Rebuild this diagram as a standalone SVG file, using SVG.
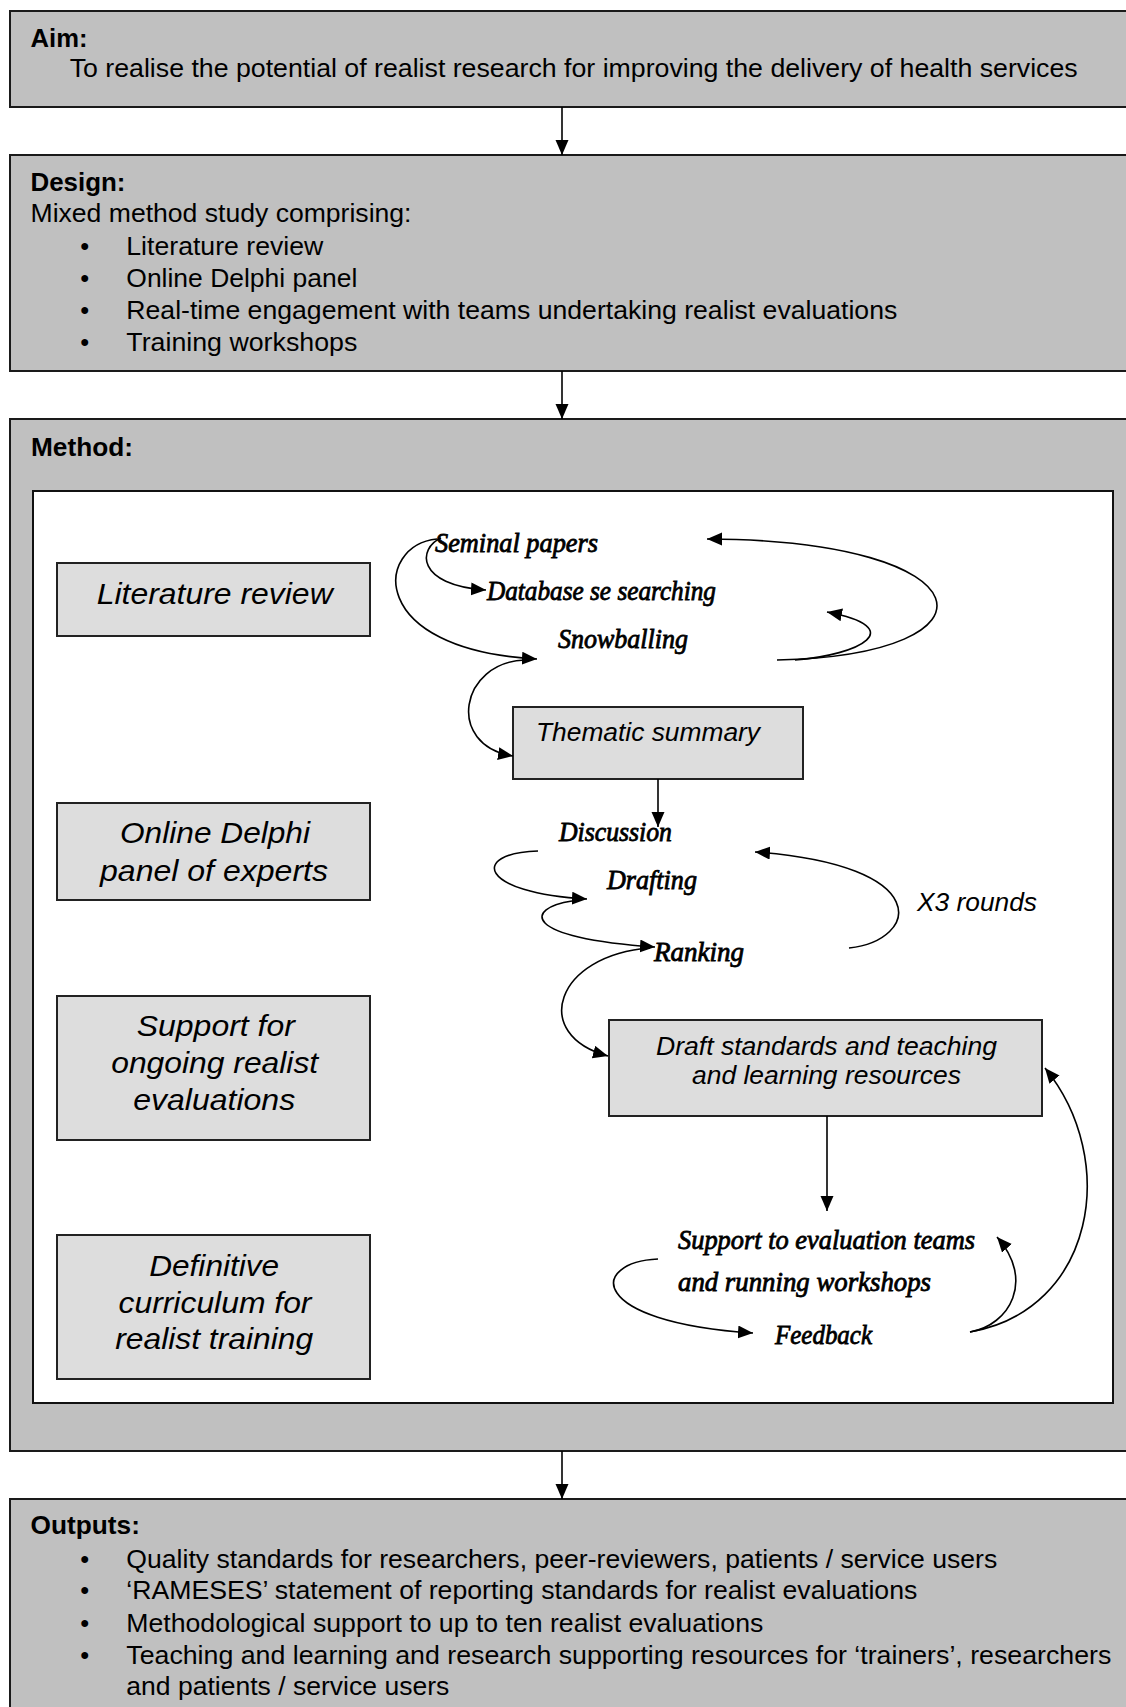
<svg xmlns="http://www.w3.org/2000/svg" width="1126" height="1707" viewBox="0 0 1126 1707">
<style>
.box{fill:#c0c0c0;stroke:#1a1a1a;stroke-width:2}
.lbox{fill:#dddddd;stroke:#222;stroke-width:2}
.inner{fill:#fff;stroke:#111;stroke-width:2}
.t{font-family:"Liberation Sans",Arial,sans-serif;font-size:25.5px;fill:#000}
.b{font-weight:bold}
.li{font-family:"Liberation Sans",Arial,sans-serif;font-style:italic;font-size:29px;fill:#000;text-anchor:middle}
.ri{font-family:"Liberation Sans",Arial,sans-serif;font-style:italic;font-size:26px;fill:#000}
.s{font-family:"Liberation Serif","Times New Roman",serif;font-style:italic;font-size:26.5px;fill:#000;stroke:#000;stroke-width:0.8}
.c{fill:none;stroke:#000;stroke-width:1.6}
.v{fill:none;stroke:#000;stroke-width:1.6}
</style>
<defs>
<marker id="ah" markerUnits="userSpaceOnUse" markerWidth="16" markerHeight="14" refX="15" refY="6.5" orient="auto"><path d="M0,0 L15,6.5 L0,13 Z" fill="#000"/></marker>
</defs>
<rect width="1126" height="1707" fill="#fff"/>

<g id="aim">
<rect class="box" x="10" y="11" width="1130" height="96"/>
<text class="t b" x="30.5" y="47" textLength="57" lengthAdjust="spacingAndGlyphs">Aim:</text>
<text class="t" x="69.7" y="77" textLength="1008" lengthAdjust="spacingAndGlyphs">To realise the potential of realist research for improving the delivery of health services</text>
</g>

<g id="design">
<rect class="box" x="10" y="155" width="1130" height="216"/>
<text class="t b" x="30.5" y="191" textLength="95" lengthAdjust="spacingAndGlyphs">Design:</text>
<text class="t" x="30.5" y="222" textLength="381" lengthAdjust="spacingAndGlyphs">Mixed method study comprising:</text>
<text class="t" x="84.7" y="254.5" text-anchor="middle">•</text>
<text class="t" x="126.3" y="254.5" textLength="197" lengthAdjust="spacingAndGlyphs">Literature review</text>
<text class="t" x="84.7" y="286.5" text-anchor="middle">•</text>
<text class="t" x="126.3" y="286.5" textLength="231" lengthAdjust="spacingAndGlyphs">Online Delphi panel</text>
<text class="t" x="84.7" y="318.5" text-anchor="middle">•</text>
<text class="t" x="126.3" y="318.5" textLength="771" lengthAdjust="spacingAndGlyphs">Real-time engagement with teams undertaking realist evaluations</text>
<text class="t" x="84.7" y="351" text-anchor="middle">•</text>
<text class="t" x="126.3" y="351" textLength="231" lengthAdjust="spacingAndGlyphs">Training workshops</text>
</g>

<g id="method">
<rect class="box" x="10" y="419" width="1130" height="1032"/>
<text class="t b" x="31" y="456" textLength="102" lengthAdjust="spacingAndGlyphs">Method:</text>
<rect class="inner" x="33" y="491" width="1080" height="912"/>
</g>

<g id="lit-review">
<rect class="lbox" x="57" y="563" width="313" height="73"/>
<text class="li" x="214.7" y="603.5" textLength="236" lengthAdjust="spacingAndGlyphs">Literature review</text>
</g>
<g id="delphi">
<rect class="lbox" x="57" y="803" width="313" height="97"/>
<text class="li" x="215" y="843" textLength="190" lengthAdjust="spacingAndGlyphs">Online Delphi</text>
<text class="li" x="214" y="880.5" textLength="228" lengthAdjust="spacingAndGlyphs">panel of experts</text>
</g>
<g id="support">
<rect class="lbox" x="57" y="996" width="313" height="144"/>
<text class="li" x="215.8" y="1036" textLength="158" lengthAdjust="spacingAndGlyphs">Support for</text>
<text class="li" x="214.7" y="1073" textLength="207" lengthAdjust="spacingAndGlyphs">ongoing realist</text>
<text class="li" x="214.2" y="1109.7" textLength="162" lengthAdjust="spacingAndGlyphs">evaluations</text>
</g>
<g id="curriculum">
<rect class="lbox" x="57" y="1235" width="313" height="144"/>
<text class="li" x="214.2" y="1276" textLength="130" lengthAdjust="spacingAndGlyphs">Definitive</text>
<text class="li" x="215" y="1313" textLength="193" lengthAdjust="spacingAndGlyphs">curriculum for</text>
<text class="li" x="214.2" y="1349" textLength="198" lengthAdjust="spacingAndGlyphs">realist training</text>
</g>

<g id="seminal"><text class="s" x="435" y="552" textLength="163" lengthAdjust="spacingAndGlyphs">Seminal papers</text></g>
<g id="database"><text class="s" x="487" y="600" textLength="229" lengthAdjust="spacingAndGlyphs">Database se searching</text></g>
<g id="snowballing"><text class="s" x="558" y="648" textLength="130" lengthAdjust="spacingAndGlyphs">Snowballing</text></g>
<g id="thematic">
<rect class="lbox" x="513" y="707" width="290" height="72"/>
<text class="ri" x="536" y="741" textLength="224" lengthAdjust="spacingAndGlyphs">Thematic summary</text>
</g>
<g id="discussion"><text class="s" x="559" y="841" textLength="113" lengthAdjust="spacingAndGlyphs">Discussion</text></g>
<g id="drafting"><text class="s" x="607" y="889" textLength="90" lengthAdjust="spacingAndGlyphs">Drafting</text></g>
<g id="ranking"><text class="s" x="654" y="961" textLength="90" lengthAdjust="spacingAndGlyphs">Ranking</text></g>
<g id="x3-rounds"><text class="ri" x="917" y="911" textLength="120" lengthAdjust="spacingAndGlyphs">X3 rounds</text></g>
<g id="draft-standards">
<rect class="lbox" x="609" y="1020" width="433" height="96"/>
<text class="ri" x="656" y="1055" textLength="341" lengthAdjust="spacingAndGlyphs">Draft standards and teaching</text>
<text class="ri" x="692" y="1084" textLength="269" lengthAdjust="spacingAndGlyphs">and learning resources</text>
</g>
<g id="support-teams">
<text class="s" x="678" y="1249" textLength="297" lengthAdjust="spacingAndGlyphs">Support to evaluation teams</text>
<text class="s" x="678" y="1291" textLength="253" lengthAdjust="spacingAndGlyphs">and running workshops</text>
</g>
<g id="feedback"><text class="s" x="775" y="1344" textLength="97" lengthAdjust="spacingAndGlyphs">Feedback</text></g>

<g id="outputs">
<rect class="box" x="10" y="1499" width="1130" height="230"/>
<text class="t b" x="30.5" y="1534" textLength="109.5" lengthAdjust="spacingAndGlyphs">Outputs:</text>
<text class="t" x="84.7" y="1568" text-anchor="middle">•</text>
<text class="t" x="126.3" y="1568" textLength="871" lengthAdjust="spacingAndGlyphs">Quality standards for researchers, peer-reviewers, patients / service users</text>
<text class="t" x="84.7" y="1599" text-anchor="middle">•</text>
<text class="t" x="126.3" y="1599" textLength="791" lengthAdjust="spacingAndGlyphs">‘RAMESES’ statement of reporting standards for realist evaluations</text>
<text class="t" x="84.7" y="1631.5" text-anchor="middle">•</text>
<text class="t" x="126.3" y="1631.5" textLength="637" lengthAdjust="spacingAndGlyphs">Methodological support to up to ten realist evaluations</text>
<text class="t" x="84.7" y="1663.5" text-anchor="middle">•</text>
<text class="t" x="126.3" y="1663.5" textLength="985" lengthAdjust="spacingAndGlyphs">Teaching and learning and research supporting resources for ‘trainers’, researchers</text>
<text class="t" x="126.3" y="1695" textLength="323" lengthAdjust="spacingAndGlyphs">and patients / service users</text>
</g>

<g id="connectors">
<line class="v" x1="562" y1="107" x2="562" y2="155" marker-end="url(#ah)"/>
<line class="v" x1="562" y1="371" x2="562" y2="419" marker-end="url(#ah)"/>
<line class="v" x1="562" y1="1451" x2="562" y2="1499" marker-end="url(#ah)"/>
<line class="v" x1="658" y1="779" x2="658" y2="827" marker-end="url(#ah)"/>
<line class="v" x1="827" y1="1116" x2="827" y2="1211" marker-end="url(#ah)"/>
<path class="c" d="M441,538 C418,548 415,585 486,590" marker-end="url(#ah)"/>
<path class="c" d="M437,539 C375,545 365,650 537,659" marker-end="url(#ah)"/>
<path class="c" d="M525,660 C460,662 445,745 513,756" marker-end="url(#ah)"/>
<path class="c" d="M777,660 C1010,655 990,540 707,539" marker-end="url(#ah)"/>
<path class="c" d="M795,660 C860,655 910,628 827,612" marker-end="url(#ah)"/>
<path class="c" d="M538,851 C470,853 478,893 587,899" marker-end="url(#ah)"/>
<path class="c" d="M572,901 C525,908 520,938 655,947" marker-end="url(#ah)"/>
<path class="c" d="M650,948 C555,955 530,1035 608,1056" marker-end="url(#ah)"/>
<path class="c" d="M849,948 C920,940 935,865 755,852" marker-end="url(#ah)"/>
<path class="c" d="M658,1259 C590,1262 585,1322 753,1333" marker-end="url(#ah)"/>
<path class="c" d="M970,1332 C1010,1325 1035,1280 997,1237" marker-end="url(#ah)"/>
<path class="c" d="M970,1332 C1095,1310 1120,1160 1045,1068" marker-end="url(#ah)"/>
</g>
</svg>
